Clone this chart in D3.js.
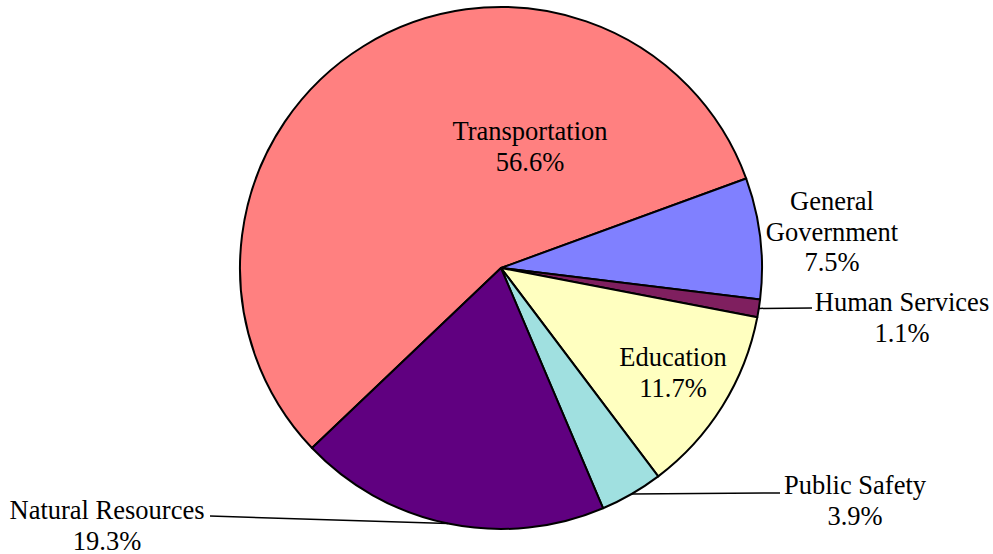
<!DOCTYPE html>
<html>
<head>
<meta charset="utf-8">
<script src="https://cdn.jsdelivr.net/npm/d3@7"></script>
<style>
  html, body { margin: 0; padding: 0; background: #fff; }
  svg { display: block; }
</style>
</head>
<body>
<svg id="chart" width="993" height="554"></svg>
<script>
// Budget shares by function
const categories = ["Transportation", "General Government", "Human Services", "Education", "Public Safety", "Natural Resources"];
const shares = [56.6, 7.5, 1.1, 11.7, 3.9, 19.3];
const valueLabels = ["56.6%", "7.5%", "1.1%", "11.7%", "3.9%", "19.3%"];
const labelLines = [["Transportation"], ["General", "Government"], ["Human Services"], ["Education"], ["Public Safety"], ["Natural Resources"]];

const colors = ["#FF8080", "#8080FF", "#7F1F5F", "#FFFFC0", "#A0E0E0", "#600080"];

// label layout: anchor point of first text line, and optional leader end
const labelLayout = [
  { x: 530, y: 140 },
  { x: 832, y: 210 },
  { x: 902, y: 311, leader: [812, 308] },
  { x: 673, y: 366 },
  { x: 855, y: 494, leader: [780, 493] },
  { x: 107, y: 519, leader: [210, 516] }
];

const svg = d3.select("#chart");
const cx = 501, cy = 268, r = 261;
const startDeg = 226.4;

const pie = d3.pie().sort(null).value(d => d)
  .startAngle(startDeg * Math.PI / 180)
  .endAngle((startDeg + 360) * Math.PI / 180);
const arcs = pie(shares);
const arc = d3.arc().innerRadius(0).outerRadius(r);

const g = svg.append("g").attr("transform", `translate(${cx},${cy})`);
g.selectAll("path.slice").data(arcs).join("path")
  .attr("class", "slice")
  .attr("d", arc)
  .attr("fill", (d, i) => colors[i])
  .attr("stroke", "#000")
  .attr("stroke-width", 2)
  .attr("stroke-linejoin", "round");

// leader lines from slice mid-angle on the rim to the label
arcs.forEach((a, i) => {
  const L = labelLayout[i];
  if (!L.leader) return;
  const m = (a.startAngle + a.endAngle) / 2;
  const px = cx + r * Math.sin(m), py = cy - r * Math.cos(m);
  svg.append("line")
    .attr("x1", px).attr("y1", py)
    .attr("x2", L.leader[0]).attr("y2", L.leader[1])
    .attr("stroke", "#000").attr("stroke-width", 1.5);
});

// labels
const lh = 30.5;
categories.forEach((c, i) => {
  const L = labelLayout[i];
  const lines = labelLines[i].concat([valueLabels[i]]);
  const t = svg.append("text")
    .attr("text-anchor", "middle")
    .attr("font-family", "'Liberation Serif', 'Times New Roman', serif")
    .attr("font-size", 26.5)
    .attr("fill", "#000");
  lines.forEach((s, k) => {
    t.append("tspan").attr("x", L.x).attr("y", L.y + k * lh).text(s);
  });
});
</script>
</body>
</html>
